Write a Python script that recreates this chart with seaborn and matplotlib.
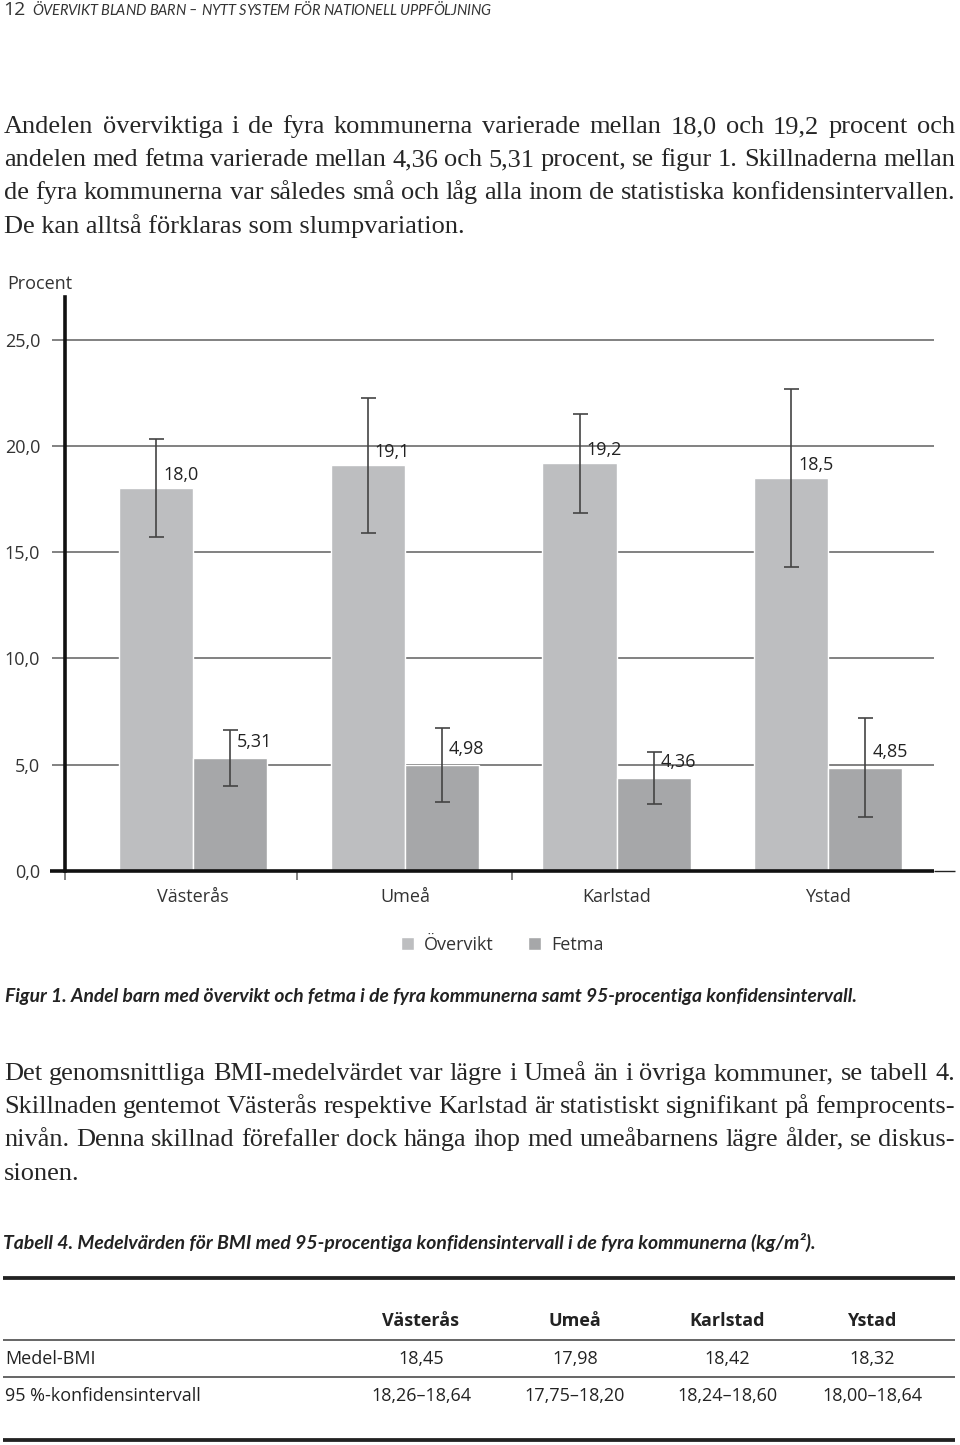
import numpy as np
import pandas as pd
import matplotlib
matplotlib.use("Agg")
import matplotlib.pyplot as plt
import seaborn as sns
from matplotlib.lines import Line2D

# ---------------- data ----------------
kommuner = ["Västerås", "Umeå", "Karlstad", "Ystad"]
grupper = ["Övervikt", "Fetma"]
overvikt = [18.0, 19.1, 19.2, 18.5]
overvikt_lo = [15.7, 15.9, 16.85, 14.3]
overvikt_hi = [20.3, 22.25, 21.5, 22.65]
fetma = [5.31, 4.98, 4.36, 4.85]
fetma_lo = [4.0, 3.25, 3.15, 2.55]
fetma_hi = [6.65, 6.75, 5.6, 7.2]
overvikt_etiketter = ["18,0", "19,1", "19,2", "18,5"]
fetma_etiketter = ["5,31", "4,98", "4,36", "4,85"]
y_ticks = [0, 5, 10, 15, 20, 25]
y_ticklabels = ["0,0", "5,0", "10,0", "15,0", "20,0", "25,0"]
farger = ["#bdbec0", "#a6a7a9"]

tabell_rader = ["Medel-BMI", "95 %-konfidensintervall"]
medel_bmi = ["18,45", "17,98", "18,42", "18,32"]
konf_int = ["18,26–18,64", "17,75–18,20", "18,24–18,60", "18,00–18,64"]

rubrik_nr = "12"
rubrik = "ÖVERVIKT BLAND BARN – NYTT SYSTEM FÖR NATIONELL UPPFÖLJNING"
stycke1 = [
    "Andelen överviktiga i de fyra kommunerna varierade mellan 18,0 och 19,2 procent och",
    "andelen med fetma varierade mellan 4,36 och 5,31 procent, se figur 1. Skillnaderna mellan",
    "de fyra kommunerna var således små och låg alla inom de statistiska konfidensintervallen.",
    "De kan alltså förklaras som slumpvariation.",
]
figurtext = "Figur 1. Andel barn med övervikt och fetma i de fyra kommunerna samt 95-procentiga konfidensintervall."
stycke2 = [
    "Det genomsnittliga BMI-medelvärdet var lägre i Umeå än i övriga kommuner, se tabell 4.",
    "Skillnaden gentemot Västerås respektive Karlstad är statistiskt signifikant på femprocents-",
    "nivån. Denna skillnad förefaller dock hänga ihop med umeåbarnens lägre ålder, se diskus-",
    "sionen.",
]
tabelltext = "Tabell 4. Medelvärden för BMI med 95-procentiga konfidensintervall i de fyra kommunerna (kg/m²)."

# ---------------- figure ----------------
W, H = 960, 1445
sns.set_theme(style="white")
plt.rcParams["font.family"] = ["Open Sans", "DejaVu Sans"]
fig = plt.figure(figsize=(W / 100, H / 100), dpi=100)
fig.patch.set_facecolor("white")
renderer = fig.canvas.get_renderer()
PX = 0.72  # points per pixel


def fx(x):
    return x / W


def fy(y):
    return 1 - y / H


SERIF = dict(family=["Liberation Serif", "DejaVu Serif"], fontsize=19, color="#262626")


def text_line(s, x0, x1, yb, justify=True, **kw):
    words = s.split(" ")
    if not justify or len(words) == 1:
        fig.text(fx(x0), fy(yb), s, ha="left", va="baseline", **kw)
        return
    ts = [fig.text(0, 0, w, ha="left", va="baseline", **kw) for w in words]
    ws = [t.get_window_extent(renderer).width for t in ts]
    gap = (x1 - x0 - sum(ws)) / (len(words) - 1)
    x = x0
    for t, w in zip(ts, ws):
        t.set_position((fx(x), fy(yb)))
        x += w + gap


def fitted_text(s, x0, x1, yb, **kw):
    t = fig.text(fx(x0), fy(yb), s, ha="left", va="baseline", fontsize=10, **kw)
    w = t.get_window_extent(renderer).width
    t.set_fontsize(10 * (x1 - x0) / w)
    return t


# header
fig.text(fx(3), fy(15), rubrik_nr, ha="left", va="baseline", fontsize=14, color="#333333")
hdr_kw = dict(family=["Lato", "DejaVu Sans"], style="italic", fontsize=10.5, color="#333333")
chars = list(rubrik)
cts = []
cws = []
for c in chars:
    if c == " ":
        cts.append(None)
        cws.append(4.0)
    else:
        t = fig.text(0, 0, c, ha="left", va="baseline", **hdr_kw)
        cts.append(t)
        cws.append(t.get_window_extent(renderer).width)
track = (490 - 32 - sum(cws)) / (len(chars) - 1)
x = 32
for t, w in zip(cts, cws):
    if t is not None:
        t.set_position((fx(x), fy(15)))
    x += w + track

# paragraph 1
for i, line in enumerate(stycke1):
    text_line(line, 4, 955, 133 + i * 33.2, justify=(i < len(stycke1) - 1), **SERIF)

# ---------------- chart ----------------
ax = fig.add_axes([fx(65), fy(871), (934 - 65) / W, (871 - 297) / H])
df = pd.DataFrame({
    "kommun": kommuner * 2,
    "grupp": [grupper[0]] * 4 + [grupper[1]] * 4,
    "procent": overvikt + fetma,
})
sns.barplot(data=df, x="kommun", y="procent", hue="grupp", order=kommuner,
            hue_order=grupper, palette=farger, width=0.7, saturation=1,
            errorbar=None, ax=ax, zorder=2)

ax.set_xlim(-0.606, 3.5)
ax.set_ylim(0, 27)
ax.set_yticks(y_ticks)
ax.set_yticklabels(y_ticklabels)
ax.set_xlabel("")
ax.set_ylabel("")
ax.yaxis.grid(True, color="#5f5f5f", lw=1.1)
ax.xaxis.grid(False)
ax.set_axisbelow(True)
for s in ["top", "right", "bottom"]:
    ax.spines[s].set_visible(False)
ax.spines["left"].set_linewidth(2.6)
ax.spines["left"].set_color("#111111")
ax.tick_params(axis="y", left=True, length=13 * PX, width=1.1, color="#5f5f5f",
               pad=12 * PX, labelsize=13, labelcolor="#333333")
ax.tick_params(axis="x", which="major", bottom=False, length=0, pad=17 * PX,
               labelsize=13, labelcolor="#333333")
ax.set_xticks([-0.606, 0.491, 1.507], minor=True)
ax.tick_params(axis="x", which="minor", bottom=True, length=9 * PX, width=1.1,
               color="#5f5f5f")
# baseline
ax.plot([-0.606 - 15 / 211.67, 3.5], [0, 0], color="#111111", lw=2.6,
        clip_on=False, solid_capstyle="butt", zorder=5)
ax.plot([3.5, 3.5 + 21 / 211.67], [0, 0], color="#222222", lw=1,
        clip_on=False, solid_capstyle="butt", zorder=5)

los = [overvikt_lo, fetma_lo]
his = [overvikt_hi, fetma_hi]
etiketter = [overvikt_etiketter, fetma_etiketter]
dy = [4 * PX, 7 * PX]
for gi, cont in enumerate(ax.containers[:2]):
    xs = [b.get_x() + b.get_width() / 2 for b in cont]
    hs = [b.get_height() for b in cont]
    lo = np.array(los[gi])
    hi = np.array(his[gi])
    h = np.array(hs)
    ax.errorbar(xs, h, yerr=[h - lo, hi - h], fmt="none", ecolor="#444444",
                elinewidth=1.2, capsize=7.5 * PX, capthick=1.2, zorder=4)
    for xv, hv, lab in zip(xs, hs, etiketter[gi]):
        ax.annotate(lab, (xv, hv), xytext=(7 * PX, dy[gi]), textcoords="offset points",
                    ha="left", va="bottom", fontsize=13, color="#222222", zorder=6)

handles, labels = ax.get_legend_handles_labels()
ax.legend(handles, labels, loc="center left", bbox_to_anchor=(fx(401), fy(945)),
          bbox_transform=fig.transFigure, ncol=2, frameon=False, fontsize=13,
          handlelength=0.72, handleheight=0.72, handletextpad=0.55,
          columnspacing=1.9, borderpad=0, borderaxespad=0, labelcolor="#333333")

fig.text(fx(7), fy(284), "Procent", ha="left", va="center", fontsize=13, color="#333333")

# caption
fitted_text(figurtext, 5, 855, 1002, family=["Lato", "DejaVu Sans"], weight="bold",
            style="italic", color="#222222")

# paragraph 2
for i, line in enumerate(stycke2):
    text_line(line, 4, 955, 1080 + i * 33.2, justify=(i < len(stycke2) - 1), **SERIF)

# table caption
fitted_text(tabelltext, 3, 812, 1249, family=["Lato", "DejaVu Sans"], weight="bold",
            style="italic", color="#222222")

# table
def hline(y, lw_px, color):
    fig.add_artist(Line2D([fx(3), fx(955)], [fy(y), fy(y)], transform=fig.transFigure,
                          color=color, lw=lw_px * PX, solid_capstyle="butt"))

hline(1278, 3.8, "#222222")
hline(1340, 1.6, "#444444")
hline(1377, 1.6, "#444444")
hline(1440, 3.8, "#222222")

kol_x = [421, 575, 727, 872]
for k, xk in zip(kommuner, kol_x):
    fig.text(fx(xk), fy(1321), k, ha="center", va="center", fontsize=13,
             weight="bold", color="#222222")
rad_y = [1359, 1396]
for r, yr in zip(tabell_rader, rad_y):
    fig.text(fx(5), fy(yr), r, ha="left", va="center", fontsize=13, color="#222222")
for vals, yr in zip([medel_bmi, konf_int], rad_y):
    for v, xk in zip(vals, kol_x):
        fig.text(fx(xk), fy(yr), v, ha="center", va="center", fontsize=13, color="#222222")

fig.savefig("out.png", dpi=100, facecolor="white")
